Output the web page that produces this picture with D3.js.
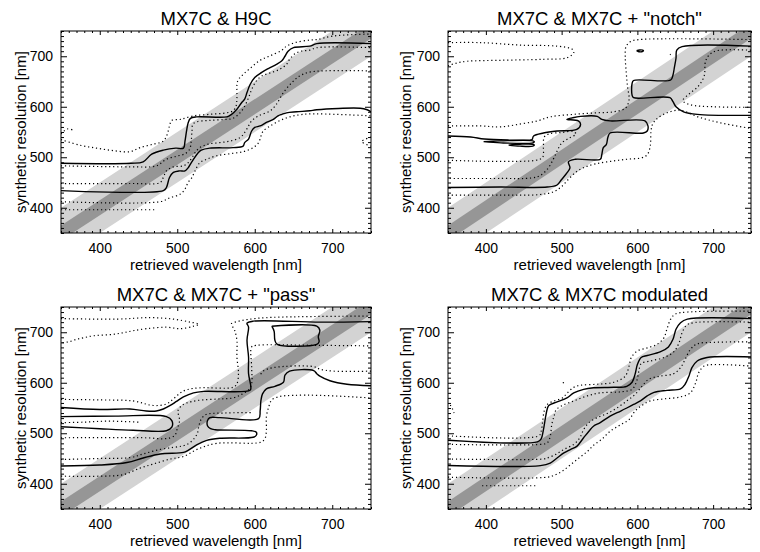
<!DOCTYPE html>
<html><head><meta charset="utf-8">
<script src="https://cdn.jsdelivr.net/npm/d3@7"></script>
<style>
body{margin:0;background:#fff}
svg text{font-family:"Liberation Sans",Arial,Helvetica,sans-serif;fill:#000}
</style>
</head><body>
<svg id="chart" width="760" height="552"></svg>
<script>
// ---------- data ----------
const panelTitles = ["MX7C & H9C", "MX7C & MX7C + \"notch\"", "MX7C & MX7C + \"pass\"", "MX7C & MX7C modulated"];
const xTicks = [400, 500, 600, 700];
const yTicks = [400, 500, 600, 700];
const axisDomain = [350, 750];
const xLabel = "retrieved wavelength [nm]";
const yLabel = "synthetic resolution [nm]";
const lightBandHalf = 50;   // nm
const darkBandHalf = 15;    // nm

// Panel 1: MX7C & H9C
const p1Solid1 = [[350,488],[440,488],[456,491],[467,506],[482,514],[498,518],[508,518],[510,532],[512,552],[514,568],[517,577],[525,580],[564,580],[570,585],[577,595],[583,608],[587,615],[590,628],[594,644],[600,658],[609,668],[618,676],[628,684],[635,691],[639,700],[643,710],[650,717],[671,720],[680,725],[750,725]];
const p1Solid2 = [[350,434],[482,434],[486,440],[490,460],[495,470],[503,473],[510,473],[514,479],[518,489],[527,509],[531,514],[542,518],[572,519],[585,522],[587,529],[592,536],[596,552],[600,559],[607,562],[615,569],[624,575],[630,582],[635,585],[641,588],[654,590],[671,592],[680,594],[736,597],[745,594],[750,590]];
const p1Dot1 = [[350,535],[374,524],[396,518],[418,513],[439,511],[452,519],[469,526],[482,532],[487,545],[490,562],[493,573],[504,575],[521,582],[542,585],[564,588],[572,592],[576,602],[577,618],[578,651],[585,664],[594,676],[607,692],[620,701],[635,712],[641,720],[652,727],[671,732],[680,733],[701,740],[750,744]];
const p1Dot2 = [[350,483],[439,481],[471,482],[478,487],[486,496],[499,502],[510,507],[516,516],[518,532],[519,552],[520,565],[525,570],[542,573],[564,575],[572,577],[581,588],[587,601],[592,618],[596,634],[602,651],[609,661],[620,667],[632,674],[641,684],[645,694],[652,705],[660,710],[671,712],[680,717],[750,717]];
const p1Dot3 = [[350,448],[439,448],[478,450],[482,460],[486,473],[495,481],[508,483],[514,489],[519,499],[523,509],[529,519],[540,526],[555,529],[568,532],[581,539],[587,549],[592,562],[596,572],[605,582],[620,592],[628,605],[637,628],[648,648],[658,661],[672,669],[750,671]];
const p1Dot4 = [[350,412],[478,412],[491,420],[504,427],[510,437],[514,450],[519,460],[523,473],[529,489],[538,496],[551,503],[568,507],[585,511],[598,519],[605,529],[608,542],[611,552],[620,562],[633,573],[645,580],[658,584],[671,586],[750,582]];
const p1Dot5 = [[350,396],[471,396]];
const p1Dot6 = [[350,546],[358,556],[367,553]];
const p1Dot7 = [[750,540],[738,531],[750,522]];

// Panel 2: notch
const p2Solid1 = [[350,542],[380,540],[398,536],[430,534],[458,534],[461,535],[463,542],[476,548],[494,552],[520,555],[525,565],[522,572],[507,575],[514,578],[525,581],[547,581],[553,575],[564,572],[610,572],[614,562],[613,552],[608,548],[564,548],[561,539],[559,525],[555,519],[553,505],[551,496],[518,496],[509,491],[511,479],[507,469],[500,456],[494,445],[481,441],[419,441],[350,440]];
const p2Solid2 = [[397,531],[420,532.5],[462,532.5],[464,530.5],[462,528.5],[420,528.5],[397,531]];
const p2Solid3 = [[430,524],[445,525.8],[462,525.8],[464,524],[462,522],[445,522],[430,524]];
const p2Solid4 = [[750,720],[659,719],[652,712],[651,696],[649,679],[647,663],[644,653],[595,652],[593,646],[593,623],[595,618],[643,618],[647,610],[651,600],[661,590],[679,585],[750,583]];
const p2Solid5 = [[599,711],[603,712.5],[608,711.5],[607,709.5],[602,709],[599,711]];
const p2Dot1 = [[350,727],[393,727],[446,722],[494,720],[514,714],[516,707],[507,697],[476,694],[419,692],[375,690],[360,686],[350,681]];
const p2Dot2 = [[350,562],[393,562],[419,560],[446,566],[468,572],[485,580],[516,585],[547,588],[569,590],[584,597],[589,613],[587,640],[585,673],[584,699],[585,719],[591,729],[602,733],[750,733]];
const p2Dot3 = [[750,712],[705,711],[695,703],[690,690],[688,660],[680,640],[668,625],[660,612],[670,604],[700,600],[750,599]];
const p2Dot4 = [[350,494],[466,494],[475,500],[476,520],[477,540],[483,546],[500,549],[515,551],[519,546],[510,538],[500,528],[494,512],[489,496],[482,478],[472,464],[460,459],[420,458],[350,458]];
const p2Dot5 = [[350,425],[420,425],[470,426],[490,432],[500,442],[510,458],[520,472],[530,480],[545,487],[565,492],[586,496],[606,499],[613,505],[617,522],[618,552],[620,565],[625,575],[639,588],[657,593],[680,580],[710,568],[750,557]];
const p2Dot6 = [[643,703],[644,704]];

// Panel 3: pass
const p3Solid1 = [[350,551],[400,547],[439,548],[460,544],[473,544],[482,548],[491,555],[499,563],[508,572],[521,580],[534,583],[594,585],[595,591],[592,618],[592,651],[590,684],[592,710],[590,718],[598,722],[684,720],[750,721]];
const p3Solid2 = [[350,533],[420,534],[486,533],[493,525],[493,512],[486,505],[443,506],[400,509],[350,513]];
const p3Solid3 = [[350,435],[400,437],[435,442],[456,451],[478,459],[508,462],[514,466],[525,477],[538,486],[555,490],[598,492],[602,496],[602,502],[596,505],[549,507],[543,509],[539,515],[539,525],[542,531],[555,531],[605,529],[607,545],[608,565],[610,578],[615,588],[626,593],[637,601],[639,615],[645,623],[676,624],[680,618],[684,613],[697,604],[719,597],[750,594]];
const p3Solid4 = [[622,712],[625,702],[626,684],[629,676],[680,676],[683,681],[682,691],[684,704],[680,712],[622,712]];
const p3Dot1 = [[350,727],[422,726],[465,729],[495,726],[517,720],[528,716],[521,712],[504,707],[486,710],[460,707],[443,703],[430,699],[418,696],[392,693],[379,689],[370,686],[360,681],[350,679]];
const p3Dot2 = [[350,567],[400,566],[443,564],[469,555],[486,558],[495,568],[504,580],[512,586],[529,590],[572,591],[577,598],[579,618],[577,651],[577,684],[574,704],[570,717],[577,721],[590,725],[615,729],[750,732]];
const p3Dot3 = [[350,491],[460,491],[482,489],[491,491],[497,496],[500,509],[503,525],[501,545],[506,555],[512,560],[527,565],[555,568],[572,570],[583,577],[592,586],[596,598],[596,631],[596,671],[602,674],[684,674],[750,673]];
const p3Dot4 = [[350,521],[380,522],[410,524],[450,522]];
const p3Dot5 = [[350,448],[400,450],[440,452],[456,459],[478,468],[495,472],[507,475],[515,480],[522,490],[526,500],[528,515],[531,528],[537,537],[560,540],[598,541]];
const p3Dot6 = [[350,415],[400,415],[430,418],[452,431],[469,439],[491,449],[508,454],[527,469],[551,480],[607,482],[613,489],[615,505],[615,532],[618,552],[622,566],[633,573],[650,575],[684,575],[750,570]];
const p3Dot7 = [[750,623],[701,623],[684,627],[676,632],[624,630],[611,623],[606,612]];

// Panel 4: modulated
const p4Solid1 = [[350,486],[468,483],[473,489],[476,507],[479,534],[481,548],[483,555],[494,562],[507,570],[516,580],[529,587],[542,590],[569,591],[586,593],[593,601],[597,617],[600,636],[605,650],[613,654],[630,661],[641,671],[647,686],[651,706],[657,719],[666,726],[750,727]];
const p4Solid2 = [[350,436],[472,436],[485,441],[494,451],[503,461],[512,468],[520,474],[529,491],[536,504],[542,514],[551,521],[564,534],[578,544],[586,550],[595,557],[604,564],[613,574],[622,581],[639,585],[657,588],[663,597],[668,613],[672,630],[679,643],[692,650],[750,651]];
const p4Dot1 = [[350,495],[470,495],[473,504],[475,524],[477,544],[481,557],[490,564],[501,570],[507,579],[516,591],[525,595],[547,597],[569,601],[584,613],[589,633],[592,650],[600,663],[613,669],[626,676],[635,689],[639,706],[644,726],[650,736],[666,740],[750,742]];
const p4Dot2 = [[350,478],[472,478],[481,481],[485,494],[487,517],[490,534],[493,547],[501,555],[516,564],[534,574],[551,580],[578,582],[593,587],[599,603],[602,623],[605,638],[617,643],[635,650],[648,661],[655,679],[659,699],[665,714],[674,719],[750,720]];
const p4Dot3 = [[350,449],[476,449],[481,451],[492,458],[503,468],[516,478],[524,491],[529,507],[536,521],[547,531],[560,539],[573,550],[586,564],[597,577],[606,593],[615,607],[630,613],[648,618],[657,630],[663,646],[670,666],[679,677],[701,680],[750,681]];
const p4Dot4 = [[350,413],[481,413],[492,418],[501,425],[512,438],[523,451],[534,464],[542,476],[553,488],[564,504],[578,517],[589,527],[597,544],[606,555],[617,564],[635,568],[657,572],[670,580],[677,600],[681,620],[688,633],[701,636],[750,633]];
const p4Dot5 = [[395,396],[467,396]];
const p4Dot6 = [[353,556],[356,548],[358,540]];
const p4Dot7 = [[502,599],[503,603]];

// ---------- layout (built from the arrays above) ----------
const panels = [
  {title: panelTitles[0], left: 61,  top: 31,  width: 310, height: 202, yTitleX: 25.5,
   solids: [p1Solid1, p1Solid2], dots: [p1Dot1, p1Dot2, p1Dot3, p1Dot4, p1Dot5, p1Dot6, p1Dot7]},
  {title: panelTitles[1], left: 448, top: 31,  width: 303, height: 202, yTitleX: 411,
   solids: [p2Solid1, p2Solid2, p2Solid3, p2Solid4, p2Solid5], dots: [p2Dot1, p2Dot2, p2Dot3, p2Dot4, p2Dot5, p2Dot6]},
  {title: panelTitles[2], left: 61,  top: 307, width: 310, height: 202, yTitleX: 25.5,
   solids: [p3Solid1, p3Solid2, p3Solid3, p3Solid4], dots: [p3Dot1, p3Dot2, p3Dot3, p3Dot4, p3Dot5, p3Dot6, p3Dot7]},
  {title: panelTitles[3], left: 448, top: 307, width: 303, height: 202, yTitleX: 411,
   solids: [p4Solid1, p4Solid2], dots: [p4Dot1, p4Dot2, p4Dot3, p4Dot4, p4Dot5, p4Dot6, p4Dot7]}
];

const svg = d3.select("#chart");
const minorTicks = d3.range(axisDomain[0], axisDomain[1] + 1, 10).filter(v => !xTicks.includes(v));

panels.forEach((p, i) => {
  const x = d3.scaleLinear().domain(axisDomain).range([0, p.width]);
  const y = d3.scaleLinear().domain(axisDomain).range([p.height, 0]);
  const g = svg.append("g").attr("transform", `translate(${p.left},${p.top})`);
  const clipId = "clip" + i;
  g.append("clipPath").attr("id", clipId).append("rect")
    .attr("width", p.width).attr("height", p.height);
  const plot = g.append("g").attr("clip-path", `url(#${clipId})`);

  // diagonal bands y = x +/- half
  const band = h => [[300, 300 - h], [800, 800 - h], [800, 800 + h], [300, 300 + h]];
  const poly = d3.line().x(d => x(d[0])).y(d => y(d[1]));
  plot.append("path").attr("d", poly(band(lightBandHalf)) + "Z").attr("fill", "#d3d3d3");
  plot.append("path").attr("d", poly(band(darkBandHalf)) + "Z").attr("fill", "#969696");

  const line = d3.line().x(d => x(d[0])).y(d => y(d[1])).curve(d3.curveCatmullRom.alpha(0.5));
  p.dots.forEach(d => plot.append("path").attr("d", line(d)).attr("fill", "none")
    .attr("stroke", "#000").attr("stroke-width", 1.2).attr("stroke-dasharray", "1.2,2.8"));
  p.solids.forEach(d => plot.append("path").attr("d", line(d)).attr("fill", "none")
    .attr("stroke", "#000").attr("stroke-width", 1.4).attr("stroke-linejoin", "round"));

  // axes: major + minor ticks on all four sides, pointing inwards
  const xMajLen = 4, xMinLen = 2, yMajLen = 6, yMinLen = 3;
  g.append("g").attr("transform", `translate(0,${p.height})`)
    .call(d3.axisBottom(x).tickValues(xTicks).tickSize(-xMajLen).tickPadding(10).tickFormat(d3.format("d")));
  g.append("g").attr("transform", `translate(0,${p.height})`)
    .call(d3.axisBottom(x).tickValues(minorTicks).tickSize(-xMinLen).tickFormat(""));
  g.append("g").call(d3.axisTop(x).tickValues(xTicks).tickSize(-xMajLen).tickFormat(""));
  g.append("g").call(d3.axisTop(x).tickValues(minorTicks).tickSize(-xMinLen).tickFormat(""));
  g.append("g")
    .call(d3.axisLeft(y).tickValues(yTicks).tickSize(-yMajLen).tickPadding(8).tickFormat(d3.format("d")));
  g.append("g").call(d3.axisLeft(y).tickValues(minorTicks).tickSize(-yMinLen).tickFormat(""));
  g.append("g").attr("transform", `translate(${p.width},0)`)
    .call(d3.axisRight(y).tickValues(yTicks).tickSize(-yMajLen).tickFormat(""));
  g.append("g").attr("transform", `translate(${p.width},0)`)
    .call(d3.axisRight(y).tickValues(minorTicks).tickSize(-yMinLen).tickFormat(""));
  g.selectAll(".domain").remove();
  g.selectAll(".tick line").attr("stroke", "#000").attr("stroke-width", 1);
  g.selectAll(".tick text").attr("font-size", 14).attr("font-family", "Liberation Sans, Arial, sans-serif");

  g.append("rect").attr("width", p.width).attr("height", p.height)
    .attr("fill", "none").attr("stroke", "#000").attr("stroke-width", 1);

  g.append("text").attr("x", p.width / 2).attr("y", -6).attr("text-anchor", "middle")
    .attr("font-size", 18.5).text(p.title);
  g.append("text").attr("x", p.width / 2).attr("y", p.height + 36.5).attr("text-anchor", "middle")
    .attr("font-size", 15).text(xLabel);
  g.append("text").attr("transform", `translate(${p.yTitleX - p.left},${p.height / 2}) rotate(-90)`)
    .attr("text-anchor", "middle").attr("font-size", 15).text(yLabel);
});
</script>
</body></html>
